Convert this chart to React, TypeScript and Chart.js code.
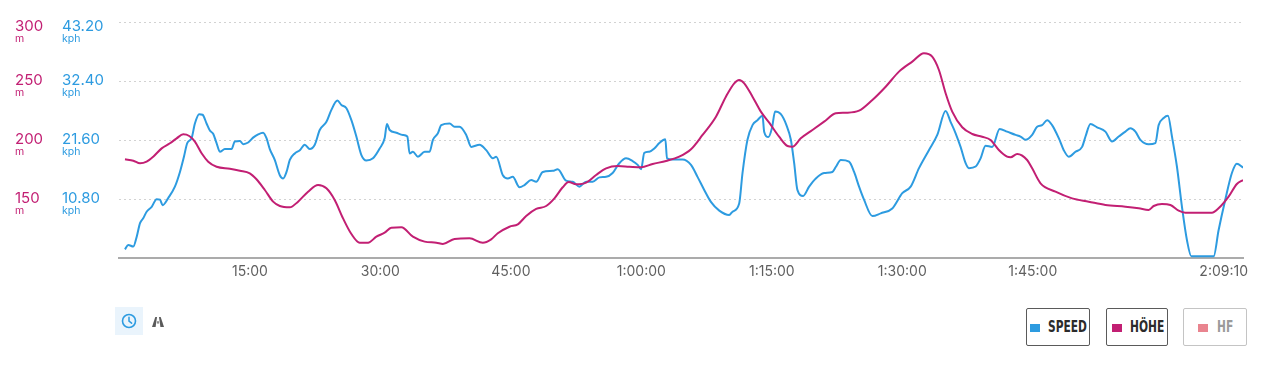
import React, { useEffect, useRef } from 'react';
import { Chart, registerables } from 'chart.js';

Chart.register(...registerables);

// ---- data (time in minutes) ----
const speedTimes = [
  0.64, 1.02, 1.6, 1.99, 2.37, 2.74, 3.13, 3.71, 4.28, 4.66, 4.97, 5.61, 6.38, 6.96, 7.42, 7.8, 8.3, 8.68, 9.17, 9.56,
  10.02, 10.4, 10.78, 11.17, 11.55, 12.12, 12.89, 13.27, 13.85, 14.23, 14.8, 15.37, 15.95, 16.52, 16.91, 17.29, 17.86,
  18.44, 18.82, 19.21, 19.59, 20.16, 20.74, 21.31, 21.88, 22.46, 23.03, 23.8, 24.37, 25.06, 25.52, 26.1, 26.67, 27.24,
  27.82, 28.39, 29.15, 29.92, 30.49, 30.76, 31.07, 31.84, 32.59, 33.1, 33.36, 33.74, 34.32, 35.09, 35.66, 36.04, 36.61,
  37.0, 37.96, 38.53, 39.1, 39.87, 40.45, 41.4, 42.17, 42.93, 43.32, 44.08, 44.65, 45.22, 45.99, 46.57, 47.34, 47.91,
  48.67, 49.82, 50.39, 51.35, 52.11, 52.88, 53.65, 54.41, 55.18, 55.95, 56.7, 57.47, 58.24, 59.0, 59.58, 59.97, 60.34,
  60.92, 61.49, 62.07, 62.76, 62.95, 63.59, 64.74, 65.71, 66.46, 67.23, 68.0, 68.96, 70.1, 70.48, 71.25, 71.63, 72.2,
  72.78, 73.35, 73.93, 74.12, 74.61, 75.01, 75.38, 76.04, 76.68, 77.19, 77.57, 77.94, 78.6, 79.29, 80.06, 81.01, 81.96,
  82.35, 82.93, 83.88, 84.46, 85.03, 85.6, 86.56, 87.52, 88.85, 90.0, 90.96, 91.92, 93.06, 94.02, 94.98, 95.55, 96.13,
  96.7, 97.28, 97.66, 98.43, 99.0, 99.57, 100.33, 101.2, 102.05, 103.02, 103.59, 104.17, 104.93, 105.5, 106.07, 106.65,
  107.22, 107.99, 108.56, 109.14, 109.91, 110.67, 111.06, 111.63, 112.39, 113.35, 114.11, 114.88, 115.65, 116.22,
  116.8, 117.37, 118.32, 119.09, 119.47, 120.05, 120.54, 121.0, 121.57, 122.15, 122.72, 123.23, 125.79, 126.36, 127.13,
  127.89, 128.46, 129.17,
];
const speedValues = [
  1.6, 2.4, 2.1, 3.9, 6.4, 7.3, 8.5, 9.4, 10.8, 10.7, 9.7, 11.0, 13.1, 15.8, 18.6, 21.1, 22.0, 24.7, 26.4, 26.3,
  24.7, 23.4, 22.8, 21.1, 19.5, 20.0, 20.0, 21.4, 21.5, 20.9, 21.2, 22.1, 22.7, 23.0, 22.0, 20.0, 18.0,
  15.2, 14.6, 15.8, 18.0, 19.2, 19.8, 20.8, 20.0, 20.8, 23.5, 25.0, 27.2, 28.9, 28.1, 27.5, 25.3, 22.3,
  18.9, 17.9, 18.3, 20.1, 22.0, 24.6, 23.5, 23.0, 22.6, 22.3, 19.2, 19.5, 18.6, 19.5, 19.5, 21.7, 22.9,
  24.4, 24.7, 24.1, 24.1, 22.6, 20.4, 20.8, 19.8, 18.3, 18.6, 15.2, 14.6, 14.9, 13.0, 13.4, 14.3, 14.0,
  15.8, 16.0, 16.3, 14.2, 14.0, 13.1, 14.0, 14.0, 14.8, 14.9, 15.6, 17.4, 18.3, 17.8, 17.1, 16.3, 19.3,
  19.5, 20.1, 21.1, 21.8, 18.3, 18.1, 18.1, 17.1, 14.9, 12.5, 10.3, 8.7, 7.9, 8.5, 10.0, 15.6, 21.7,
  24.4, 25.3, 26.1, 23.2, 22.2, 23.8, 26.9, 26.4, 24.4, 21.7, 17.4, 12.5, 11.4, 13.1, 14.6, 15.6, 15.8,
  16.7, 18.0, 17.7, 15.8, 13.1, 10.7, 7.7, 8.2, 9.1, 11.9, 13.1, 16.5, 19.8, 22.6, 27.0, 25.0, 22.9,
  20.4, 17.4, 16.5, 16.8, 18.3, 20.6, 20.4, 23.7, 23.2, 22.6, 22.3, 21.7, 22.6, 24.1, 24.4, 25.3,
  24.4, 22.0, 19.8, 18.6, 19.5, 20.4, 22.3, 24.6, 24.0, 23.2, 21.4, 22.3, 23.2, 23.8,
  23.2, 21.7, 20.9, 21.1, 24.4, 25.7, 26.1, 22.3, 16.8, 9.4, 3.3, 0.3, 0.3, 5.1, 10.7,
  15.6, 17.3, 16.6,
];

const altitudeTimes = [
  0.64, 1.6, 2.37, 3.13, 3.89, 4.86, 5.81, 6.58, 7.34, 8.03, 8.68, 9.45, 10.21, 11.17, 12.7, 13.85, 14.99, 15.76,
  16.72, 17.67, 18.44, 19.59, 20.54, 21.69, 22.84, 23.8, 24.75, 25.71, 26.67, 27.62, 28.58, 29.54, 30.49, 31.26,
  32.41, 33.74, 35.09, 36.43, 37.19, 38.53, 40.25, 41.78, 42.74, 43.5, 44.84, 45.8, 46.76, 47.91, 49.06, 50.01,
  50.96, 51.65, 52.5, 53.65, 54.8, 55.95, 57.28, 58.62, 59.97, 61.3, 62.84, 64.36, 65.71, 67.04, 68.58, 69.72,
  70.68, 71.25, 71.83, 72.78, 73.74, 74.7, 75.84, 76.8, 77.37, 78.33, 79.67, 81.01, 82.35, 83.5, 85.03, 86.56,
  88.09, 89.62, 91.15, 92.49, 93.44, 94.21, 94.98, 95.74, 96.89, 98.04, 99.18, 100.15, 101.1, 102.05, 102.45,
  103.21, 104.35, 104.93, 105.89, 107.61, 109.52, 111.43, 113.35, 115.65, 117.18, 118.32, 118.9, 119.85, 120.82,
  121.77, 122.54, 125.59, 126.36, 127.51, 128.46, 129.17,
];
const altitudeValues = [
  183.9, 182.7, 180.5, 181.9, 186.1, 193.2, 197.5, 201.7, 205.1, 203.7, 198.9, 189.0, 181.9, 177.6, 175.9, 174.2, 172.0, 166.9,
  157.8, 147.9, 144.2, 143.1, 147.9, 156.4, 162.1, 159.2, 149.3, 133.7, 120.4, 113.0, 113.0, 118.1, 121.5, 125.8,
  126.1, 118.1, 113.9, 113.0, 111.9, 116.2, 116.7, 113.0, 115.9, 121.0, 126.6, 128.6, 135.7, 141.7, 144.2, 150.7,
  160.1, 164.6, 162.6, 164.0, 170.6, 176.2, 178.2, 177.6, 177.1, 179.9, 182.5, 186.1, 192.4, 204.6, 220.1, 237.1,
  248.5, 251.3, 248.5, 237.1, 224.4, 215.0, 203.1, 195.2, 194.6, 201.7, 208.8, 215.9, 223.0, 223.5, 225.2, 234.3,
  245.6, 258.4, 266.9, 274.0, 271.1, 259.8, 240.0, 224.4, 211.1, 205.4, 203.1, 200.3, 191.8, 186.1, 185.6,
  188.4, 183.3, 176.2, 163.5, 156.4, 150.7, 147.9, 145.1, 143.6, 142.2, 140.8, 144.2, 145.9, 145.1,
  140.2, 138.5, 138.5, 142.2, 152.1, 162.9, 166.3,
];

const altitudeTicks = [150, 200, 250, 300];
const speedTicks = [10.8, 21.6, 32.4, 43.2];
const timeTicks = [15, 30, 45, 60, 75, 90, 105];
const totalMinutes = 129 + 10 / 60;
const endLabel = '2:09:10';

const BLUE = '#2d9be0';
const MAGENTA = '#c21f73';
const PINK = '#e9848f';

function formatMinutes(m: number): string {
  const h = Math.floor(m / 60);
  const mm = Math.round(m % 60);
  const pad = (n: number) => (n < 10 ? '0' + n : '' + n);
  return h > 0 ? `${h}:${pad(mm)}:00` : `${mm}:00`;
}

const labelPlugin = {
  id: 'customLabels',
  afterDraw(chart: any) {
    const ctx = chart.ctx;
    const area = chart.chartArea;
    const yAlt = chart.scales.yAlt;
    const ySpeed = chart.scales.ySpeed;
    const x = chart.scales.x;
    ctx.save();
    altitudeTicks.forEach((v, i) => {
      const y = yAlt.getPixelForValue(v);
      const base = y + (v === 300 ? 8.3 : 3.7);
      ctx.textAlign = 'left';
      ctx.textBaseline = 'alphabetic';
      ctx.fillStyle = MAGENTA;
      ctx.font = '15px Inter';
      ctx.fillText(String(v), 7, base);
      ctx.font = '10.5px Inter';
      ctx.fillText('m', 7, base + 11);
      const s = speedTicks[i];
      const ys = ySpeed.getPixelForValue(s);
      const baseS = ys + (v === 300 ? 8.3 : 3.7);
      ctx.fillStyle = BLUE;
      ctx.font = '15px Inter';
      ctx.fillText(s.toFixed(2), 54, baseS);
      ctx.font = '10.5px Inter';
      ctx.fillText('kph', 54, baseS + 11);
    });
    ctx.fillStyle = '#5f5f5f';
    ctx.font = '14px Inter';
    ctx.textAlign = 'center';
    x.ticks.forEach((t: any) => {
      ctx.fillText(formatMinutes(t.value), x.getPixelForValue(t.value), area.bottom + 18);
    });
    ctx.textAlign = 'right';
    ctx.fillText(endLabel, x.getPixelForValue(totalMinutes) + 5, area.bottom + 18);
    ctx.restore();
  },
};

function ChartCanvas() {
  const ref = useRef<HTMLCanvasElement | null>(null);
  useEffect(() => {
    if (!ref.current) return;
    const chart = new Chart(ref.current, {
      type: 'line',
      data: {
        datasets: [
          {
            label: 'HÖHE',
            data: altitudeTimes.map((t, i) => ({ x: t, y: altitudeValues[i] })),
            yAxisID: 'yAlt',
            borderColor: MAGENTA,
            borderWidth: 2,
            pointRadius: 0,
            cubicInterpolationMode: 'monotone',
            order: 0,
          },
          {
            label: 'SPEED',
            data: speedTimes.map((t, i) => ({ x: t, y: speedValues[i] })),
            yAxisID: 'ySpeed',
            borderColor: BLUE,
            borderWidth: 2,
            pointRadius: 0,
            cubicInterpolationMode: 'monotone',
            order: 1,
          },
        ],
      },
      options: {
        responsive: false,
        animation: false,
        events: [],
        layout: { padding: { top: 14.7, right: 12, left: 0, bottom: 0 } },
        plugins: { legend: { display: false }, tooltip: { enabled: false } },
        scales: {
          x: {
            type: 'linear',
            min: 0,
            max: totalMinutes,
            grid: { display: false },
            border: { display: true, color: '#ababab', width: 2 },
            ticks: { display: false },
            afterBuildTicks: (s: any) => {
              s.ticks = timeTicks.map((v) => ({ value: v }));
            },
            afterFit: (s: any) => {
              s.height = 40;
            },
          },
          yAlt: {
            type: 'linear',
            position: 'left',
            min: 100,
            max: 300,
            ticks: { display: false, stepSize: 50 },
            grid: {
              drawTicks: false,
              color: (c: any) => (c.tick && c.tick.value === 100 ? 'rgba(0,0,0,0)' : '#d2d2d2'),
              lineWidth: 1,
            },
            border: { display: false, dash: [2, 3] },
            afterFit: (s: any) => {
              s.width = 111.4;
            },
          },
          ySpeed: {
            type: 'linear',
            position: 'left',
            display: false,
            min: 0,
            max: 43.2,
          },
        },
      } as any,
      plugins: [labelPlugin],
    });
    return () => chart.destroy();
  }, []);
  return <canvas ref={ref} width={1247} height={290} style={{ position: 'absolute', left: 0, top: 0 }} />;
}

function LegendButton(props: {
  left: number;
  width: number;
  squareLeft: number;
  textLeft: number;
  color: string;
  text: string;
  off?: boolean;
}) {
  return (
    <div
      style={{
        position: 'absolute',
        left: props.left,
        top: 300,
        width: props.width,
        height: 38,
        boxSizing: 'border-box',
        border: `1px solid ${props.off ? '#c4c4c4' : '#5a5a5a'}`,
        borderRadius: 2,
      }}
    >
      <span
        style={{
          position: 'absolute',
          left: props.squareLeft - 1,
          top: 15,
          width: 10,
          height: 8,
          background: props.color,
        }}
      />
      <span
        style={{
          position: 'absolute',
          left: props.textLeft - 1,
          top: 10,
          fontFamily: '"DejaVu Sans Condensed", "DejaVu Sans", sans-serif',
          fontWeight: 700,
          fontSize: 16,
          lineHeight: '16px',
          whiteSpace: 'nowrap',
          color: props.off ? '#9a9a9a' : '#2b2b2b',
          transform: 'scaleX(0.74)',
          transformOrigin: '0 0',
        }}
      >
        {props.text}
      </span>
    </div>
  );
}

export default function App() {
  return (
    <div style={{ position: 'relative', width: 1247, height: 349, fontFamily: 'Inter, sans-serif' }}>
      <ChartCanvas />
      <div style={{ position: 'absolute', left: 107, top: 299, width: 28, height: 28, background: '#eaf4fc' }}>
        <svg width="28" height="28" viewBox="0 0 28 28">
          <circle cx="14" cy="14" r="6.5" fill="none" stroke={BLUE} strokeWidth="1.6" />
          <path d="M14 10.3 V14.2 L16.6 16.2" fill="none" stroke={BLUE} strokeWidth="1.5" strokeLinecap="round" />
        </svg>
      </div>
      <svg style={{ position: 'absolute', left: 144, top: 309 }} width="12" height="10" viewBox="0 0 12 10">
        <polygon points="0,10 3.3,0 5,0 3.6,10" fill="#5a5a5a" />
        <polygon points="12,10 8.7,0 7,0 8.4,10" fill="#5a5a5a" />
        <rect x="5.3" y="4.2" width="1.4" height="2.4" fill="#5a5a5a" />
      </svg>
      <LegendButton left={1018} width={64} squareLeft={4} textLeft={22} color={BLUE} text="SPEED" />
      <LegendButton left={1098} width={62} squareLeft={5.7} textLeft={24} color={MAGENTA} text="HÖHE" />
      <LegendButton left={1175} width={64} squareLeft={15} textLeft={33.7} color={PINK} text="HF" off />
    </div>
  );
}
